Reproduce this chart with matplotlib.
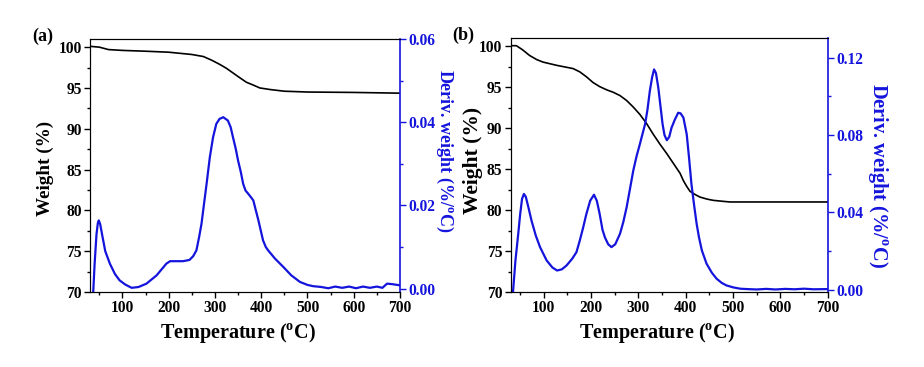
import matplotlib
matplotlib.use("Agg")
import matplotlib.pyplot as plt
from matplotlib.ticker import MultipleLocator, FormatStrFormatter

plt.rcParams['font.family'] = ['Liberation Serif', 'DejaVu Serif']
plt.rcParams['font.weight'] = 'bold'
plt.rcParams['mathtext.fontset'] = 'custom'
plt.rcParams['mathtext.rm'] = 'Liberation Serif:bold'
plt.rcParams['mathtext.bf'] = 'Liberation Serif:bold'

BLUE = '#1414dc'

# (a) weight curve
temp_wa = [30, 50, 70, 100, 150, 200, 250, 275, 293, 310, 325, 340, 355, 368, 385, 397, 420, 450, 500, 600, 700]
weight_a = [100.1, 100.0, 99.7, 99.6, 99.5, 99.38, 99.1, 98.85, 98.4, 97.9, 97.4, 96.8, 96.2, 95.7, 95.3, 95.0,
            94.8, 94.6, 94.5, 94.45, 94.36]

# (a) derivative curve
temp_da = [36, 40, 44, 47, 49, 52, 57, 63, 73, 84, 94, 106, 120, 135, 152, 174, 195, 203, 215, 231, 245, 253, 260,
           266, 271, 276, 282, 289, 296, 303, 310, 318, 328, 334, 339, 345, 350, 356, 361, 366, 372, 377, 383, 388,
           394, 399, 404, 410, 415, 430, 448, 465, 484, 500, 512, 530, 545, 560, 575, 590, 605, 620, 635, 650, 662,
           672, 682, 700]
deriv_a = [-0.003, 0.006, 0.013, 0.0158, 0.0164, 0.0155, 0.0125, 0.009, 0.006, 0.0035, 0.002, 0.001, 0.0002,
           0.0004, 0.0012, 0.0032, 0.006, 0.0066, 0.0066, 0.0066, 0.0069, 0.0078, 0.0092, 0.0125, 0.0156, 0.020,
           0.0252, 0.0316, 0.0364, 0.0396, 0.0408, 0.0412, 0.0404, 0.0388, 0.0364, 0.0336, 0.0308, 0.028, 0.0252,
           0.0236, 0.0228, 0.0221, 0.0212, 0.019, 0.0164, 0.014, 0.0116, 0.010, 0.0092, 0.0072, 0.0052, 0.0032,
           0.0016, 0.0009, 0.0006, 0.0004, 0.0001, 0.0005, 0.0002, 0.0005, 0.0001, 0.0005, 0.0002, 0.0005, 0.0002,
           0.0012, 0.0011, 0.0008]

# (b) weight curve
temp_wb = [30, 42, 55, 70, 85, 98, 127, 162, 176, 190, 204, 218, 233, 247, 261, 275, 289, 303, 317, 331, 345, 360,
           374, 388, 395, 402, 409, 420, 430, 445, 458, 475, 493, 550, 600, 700]
weight_b = [100.1, 100.1, 99.6, 98.9, 98.4, 98.1, 97.7, 97.3, 96.9, 96.3, 95.6, 95.1, 94.7, 94.4, 94.0, 93.4, 92.6,
            91.7, 90.6, 89.3, 88.1, 86.9, 85.7, 84.5, 83.6, 82.9, 82.3, 81.9, 81.6, 81.35, 81.2, 81.1, 81.0, 81.0,
            81.0, 81.0]

# (b) derivative curve
temp_db = [34, 40, 46, 50, 54, 58, 62, 68, 74, 83, 92, 106, 118, 128, 138, 148, 160, 169, 176, 183, 190, 198, 206,
           212, 218, 224, 229, 236, 243, 251, 261, 268, 275, 282, 289, 296, 303, 308, 314, 319, 324, 329, 333, 337,
           342, 346, 351, 355, 360, 365, 370, 377, 384, 389, 395, 402, 407, 412, 418, 423, 428, 434, 444, 455, 465,
           476, 486, 500, 515, 530, 550, 570, 590, 610, 630, 650, 670, 700]
deriv_b = [-0.004, 0.015, 0.029, 0.039, 0.047, 0.0495, 0.048, 0.042, 0.0357, 0.028, 0.022, 0.0151, 0.0115, 0.0099,
           0.0105, 0.0125, 0.016, 0.0194, 0.0254, 0.032, 0.0392, 0.046, 0.0491, 0.046, 0.0392, 0.031, 0.0271,
           0.0235, 0.022, 0.0235, 0.0289, 0.035, 0.0426, 0.052, 0.0615, 0.069, 0.0753, 0.080, 0.0856, 0.093, 0.1027,
           0.110, 0.1139, 0.112, 0.1044, 0.096, 0.0856, 0.080, 0.0773, 0.079, 0.0838, 0.088, 0.0915, 0.0912,
           0.089, 0.0804, 0.068, 0.0546, 0.043, 0.034, 0.027, 0.0203, 0.0134, 0.0088, 0.0057, 0.0035, 0.0022,
           0.0012, 0.0005, 0.0003, 0.0001, 0.0004, 0.0001, 0.0004, 0.0002, 0.0005, 0.0002, 0.0003]


def style_panel(ax, ax2, dlim, dstep, panel_label, lab):
    # lab: (xlabel x, weight size, weight x, weight y, deriv size, deriv x, deriv y)
    ax.set_xlim(30, 700)
    ax.set_ylim(70, 101)
    ax.xaxis.set_major_locator(MultipleLocator(100))
    ax.xaxis.set_minor_locator(MultipleLocator(50))
    ax.yaxis.set_major_locator(MultipleLocator(5))
    ax.yaxis.set_minor_locator(MultipleLocator(2.5))
    ax.tick_params(axis='both', which='major', direction='out', length=4, width=1, labelsize=11.2, pad=2)
    ax.tick_params(axis='both', which='minor', direction='out', length=2.5, width=1)
    ax.set_xlabel(r'Temperature ($^{\mathbf{o}}$C)', fontsize=14.5, fontweight='bold')
    ax.xaxis.set_label_coords(lab[0], -0.162)
    ax.xaxis.label.set_va('center')
    ax.set_ylabel('Weight (%)', fontsize=lab[1], fontweight='bold')
    ax.yaxis.set_label_coords(lab[2], lab[3])
    ax.yaxis.label.set_va('center')
    for lbl in ax.get_xticklabels() + ax.get_yticklabels():
        lbl.set_fontweight('bold')
    ax.spines['right'].set_visible(False)

    ax2.set_ylim(*dlim)
    ax2.yaxis.set_major_locator(MultipleLocator(dstep))
    ax2.yaxis.set_minor_locator(MultipleLocator(dstep / 2))
    ax2.yaxis.set_major_formatter(FormatStrFormatter('%.2f'))
    ax2.tick_params(axis='y', which='major', direction='out', length=4, width=1, colors=BLUE, labelsize=11.2, pad=2)
    ax2.tick_params(axis='y', which='minor', direction='out', length=2.5, width=1, colors=BLUE)
    ax2.spines['right'].set_color(BLUE)
    ax2.spines['right'].set_linewidth(1.2)
    ax2.set_ylabel(r'Deriv. weight (%/$^{\mathbf{o}}$C)', fontsize=lab[4], fontweight='bold', color=BLUE,
                   rotation=270)
    ax2.yaxis.set_label_coords(lab[5], lab[6])
    ax2.yaxis.label.set_va('center')
    for lbl in ax2.get_yticklabels():
        lbl.set_fontweight('bold')
    ax.text(-0.185, 1.01, panel_label, transform=ax.transAxes, fontsize=13, fontweight='bold', va='center')


fig = plt.figure(figsize=(9.24, 3.67), dpi=100)

ax_a = fig.add_axes([0.0974, 0.2044, 0.3355, 0.6894])
ax_a.plot(temp_wa, weight_a, color='black', lw=1.2)
ax_a2 = ax_a.twinx()
ax_a2.plot(temp_da, deriv_a, color=BLUE, lw=1.6)
style_panel(ax_a, ax_a2, (-0.0008, 0.06), 0.02, '(a)',
            (0.477, 13.8, -0.145, 0.49, 13.0, 1.145, 0.557))

ax_b = fig.add_axes([0.5527, 0.2044, 0.3431, 0.6912])
ax_b.plot(temp_wb, weight_b, color='black', lw=1.2)
ax_b2 = ax_b.twinx()
ax_b2.plot(temp_db, deriv_b, color=BLUE, lw=1.6)
style_panel(ax_b, ax_b2, (-0.0012, 0.13), 0.04, '(b)',
            (0.4615, 15.5, -0.119, 0.52, 14.7, 1.160, 0.458))

fig.savefig('out.png', dpi=100)
